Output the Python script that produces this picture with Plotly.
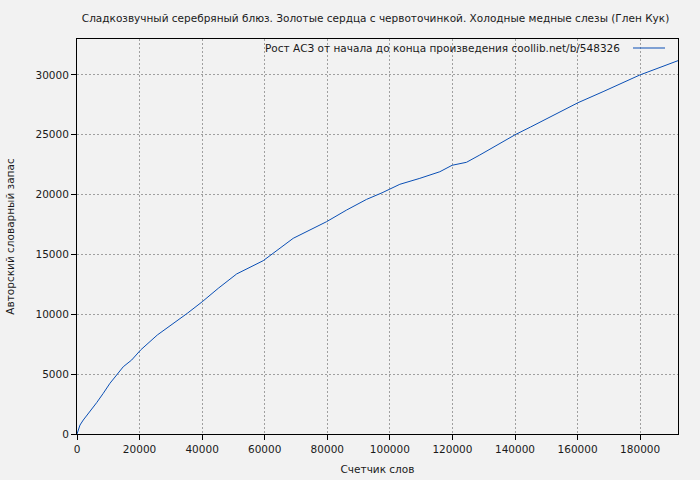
import plotly.graph_objects as go

# ── Data ──────────────────────────────────────────────────────────────────────
words = [0, 960, 2010, 4150, 6290, 8400, 10540, 12680, 14790, 17470, 20340,
         25670, 30990, 35240, 40030, 45140, 51020, 59520, 69110, 79780, 86160,
         92550, 97500, 103190, 109580, 115970, 119900, 124500, 128750, 135140,
         140030, 145000, 152170, 160160, 168150, 179870, 192100]
vocab = [0, 750, 1170, 1860, 2620, 3400, 4240, 4930, 5620, 6180, 7020,
         8270, 9250, 10080, 11050, 12170, 13370, 14480, 16350, 17740, 18710,
         19600, 20150, 20860, 21360, 21910, 22450, 22700, 23310, 24290,
         25000, 25650, 26600, 27680, 28600, 29990, 31190]

x_ticks = [0, 20000, 40000, 60000, 80000, 100000, 120000, 140000, 160000, 180000]
y_ticks = [0, 5000, 10000, 15000, 20000, 25000, 30000]

TITLE = "Сладкозвучный серебряный блюз. Золотые сердца с червоточинкой. Холодные медные слезы (Глен Кук)"
LEGEND = "Рост АСЗ от начала до конца произведения coollib.net/b/548326"
X_TITLE = "Счетчик слов"
Y_TITLE = "Авторский словарный запас"

# ── Style ─────────────────────────────────────────────────────────────────────
BG = "#f2f2f2"
LINE = "#0a4fb5"
GRID = "#a0a0a0"
TEXT = "#1a1a1a"
FONT = "DejaVu Sans"
FS = 10.5

fig = go.Figure()
fig.add_trace(go.Scatter(
    x=words, y=vocab,
    mode="lines",
    name=LEGEND,
    line=dict(color=LINE, width=1),
    showlegend=False,
))

axis_common = dict(
    showline=True, mirror=True, linecolor="black", linewidth=1,
    showgrid=True, gridcolor=GRID, gridwidth=1, griddash="2px,2px",
    zeroline=False, ticks="outside", ticklen=5, tickcolor="black",
    tickfont=dict(family=FONT, size=FS, color=TEXT),
    automargin=False,
)

fig.update_layout(
    width=700, height=480,
    paper_bgcolor=BG, plot_bgcolor=BG,
    font=dict(family=FONT, size=FS, color=TEXT),
    margin=dict(l=77, r=22, t=39, b=46, autoexpand=False),
    title=dict(text=TITLE, x=0.5365, xanchor="center", y=0.9625, yanchor="middle",
               font=dict(family=FONT, size=FS, color=TEXT)),
    xaxis=dict(range=[0, 192100], tickvals=x_ticks, tickformat="d",
               title=dict(text=X_TITLE, standoff=12, font=dict(size=FS)),
               **axis_common),
    yaxis=dict(range=[0, 33000], tickvals=y_ticks, tickformat="d",
               title=dict(text=Y_TITLE, standoff=18, font=dict(size=FS)),
               **axis_common),
    showlegend=False,
)

# gnuplot-style key: text on the left, line sample on the right
fig.add_annotation(
    text=LEGEND, xref="paper", yref="paper",
    x=(622 - 77) / 601, y=(434 - 48) / 395,
    xanchor="right", yanchor="middle", showarrow=False,
    font=dict(family=FONT, size=FS, color=TEXT),
)
fig.add_shape(
    type="line", xref="paper", yref="paper",
    x0=(633 - 77) / 601, x1=(665 - 77) / 601,
    y0=(434 - 48) / 395, y1=(434 - 48) / 395,
    line=dict(color=LINE, width=1),
)

# drop the default 8px page margin so the figure fills the window
fig.write_html(
    "out.html",
    config={"displayModeBar": False},
    post_script="document.body.style.margin='0';document.body.style.background='#f2f2f2';",
)
